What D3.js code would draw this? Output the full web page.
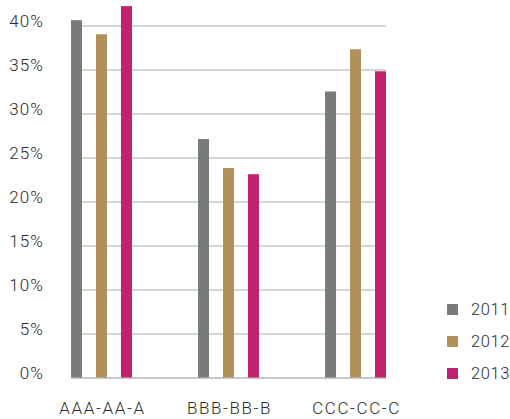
<!DOCTYPE html>
<html>
<head>
<meta charset="utf-8">
<script src="https://cdn.jsdelivr.net/npm/d3@7"></script>
<style>
  body { margin: 0; background: #fff; }
  text { font-family: Roboto, "Open Sans", sans-serif; font-weight: 300; fill: #2b2b2b; }
</style>
</head>
<body>
<div id="chart"></div>
<script>
// Chart data.
const categories = ['AAA-AA-A', 'BBB-BB-B', 'CCC-CC-C'];
const years = ['2011', '2012', '2013'];
const values2011 = [40.6, 27.1, 32.5];
const values2012 = [39.0, 23.8, 37.3];
const values2013 = [42.2, 23.1, 34.8];
const yTicks = [0, 5, 10, 15, 20, 25, 30, 35, 40];
const colors = ['#777b7e', '#b28f5b', '#c0226d'];

(function() {
  // Visualization size.
  const width = 510;
  const height = 419;

  const series = [values2011, values2012, values2013];
  const rows = categories.map((c, i) => ({
    category: c,
    values: years.map((y, j) => ({ year: y, value: series[j][i] }))
  }));

  const vis = d3.select('#chart')
    .append('svg')
    .attr('width', width)
    .attr('height', height);

  // Scales.
  const x0 = d3.scaleBand()
    .domain(categories)
    .range([71, 386])
    .paddingInner(0.52)
    .paddingOuter(0);

  const x1 = d3.scaleBand()
    .domain(years)
    .range([0, x0.bandwidth()])
    .paddingInner(0.56)
    .paddingOuter(0);

  const y = d3.scaleLinear()
    .domain([0, 40])
    .range([377.5, 25.5]);

  const color = d3.scaleOrdinal().domain(years).range(colors);

  // Gridlines and y labels.
  const yAxis = vis.append('g')
    .attr('transform', 'translate(71, 0)')
    .call(d3.axisLeft(y)
      .tickValues(yTicks)
      .tickSize(-315)
      .tickPadding(27)
      .tickFormat(d => d + '%'));
  yAxis.select('.domain').remove();
  yAxis.selectAll('.tick line')
    .style('stroke', '#c6c8c8')
    .style('stroke-width', d => d === 0 ? 2 : 1.5);
  yAxis.selectAll('.tick text')
    .attr('dy', '0.08em')
    .style('font-size', '17px')
    .style('letter-spacing', '1.1px')
    .style('fill', '#2b2b2b');

  // Bars.
  const groups = vis.append('g')
    .selectAll('g')
    .data(rows)
    .enter()
    .append('g')
    .attr('transform', d => `translate(${x0(d.category)}, 0)`);

  groups.selectAll('rect')
    .data(d => d.values)
    .enter()
    .append('rect')
    .attr('x', d => x1(d.year))
    .attr('width', x1.bandwidth())
    .attr('y', d => y(d.value))
    .attr('height', d => y(0) - y(d.value))
    .style('fill', d => color(d.year));

  // Category labels.
  const xAxis = vis.append('g')
    .attr('transform', 'translate(0, 380)')
    .call(d3.axisBottom(x0).tickSize(0).tickPadding(22));
  xAxis.select('.domain').remove();
  xAxis.selectAll('.tick text')
    .attr('dx', '1px')
    .style('font-size', '17px')
    .style('letter-spacing', '1.6px')
    .style('fill', '#2b2b2b');

  // Legend.
  const legend = vis.append('g')
    .selectAll('g')
    .data(years)
    .enter()
    .append('g')
    .attr('transform', (d, i) => `translate(447, ${304 + i * 32})`);

  legend.append('rect')
    .attr('width', 11)
    .attr('height', 11)
    .style('fill', d => color(d));

  legend.append('text')
    .text(d => d)
    .attr('x', 24)
    .attr('y', 11)
    .style('font-size', '16.5px')
    .style('letter-spacing', '0.6px');
})();
</script>
</body>
</html>
